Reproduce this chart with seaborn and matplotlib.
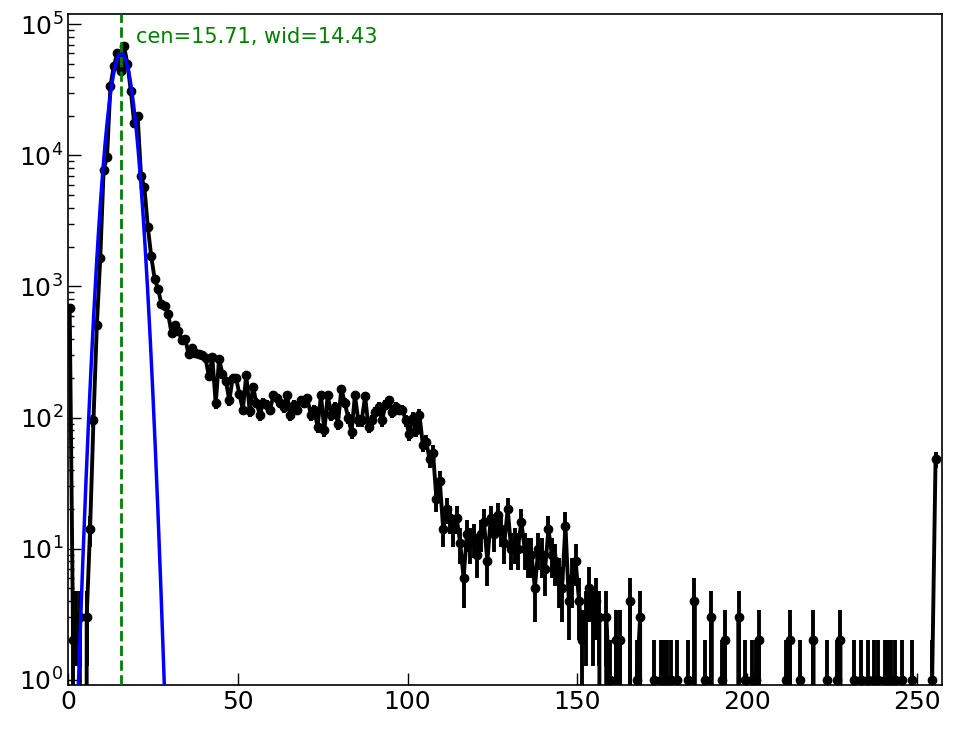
import numpy as np
import matplotlib
matplotlib.use("Agg")
import matplotlib.pyplot as plt
import seaborn as sns

# histogram counts per bin (256 bins, 0..255)
counts_peak = [680, 2, 3, 3, 0, 3, 14, 95, 510, 1650,
               7800, 9800, 34000, 48000, 60000, 44000, 68000, 50000, 31000, 17700,
               20100, 7000, 5700, 2860, 1710, 1150, 960, 740, 710, 615]
counts_shoulder = [440, 510, 460, 390, 400, 305, 340, 310, 305, 300,
                   283, 206, 289, 128, 280, 215, 190, 135, 200, 200,
                   150, 115, 212, 112, 170, 130, 105, 130, 125, 115,
                   148, 140, 130, 120, 148, 105, 125, 115, 135, 130,
                   140, 105, 115, 85, 148, 80, 148, 105, 120, 90,
                   165, 130, 100, 78, 148, 95, 95, 145, 85, 95,
                   110, 120, 95, 125, 135, 110, 120, 115, 115, 95]
counts_drop = [75, 100, 80, 105, 62, 65, 48, 54, 24, 33,
               14, 20, 17, 14, 17, 11, 6, 13, 11, 12,
               9, 13, 16, 8, 17, 13, 18, 14, 11, 20,
               10, 11, 10, 16, 10, 9, 9, 5, 10, 9,
               7, 14, 9, 8, 6, 5, 15, 4, 6, 8]
counts_tail = [4, 2, 3, 5, 3, 4, 3, 0, 3, 1,
               0, 2, 2, 0, 0, 4, 0, 1, 3, 0,
               0, 0, 1, 0, 1, 1, 1, 1, 0, 1,
               0, 0, 1, 0, 4, 0, 0, 1, 0, 3,
               0, 0, 1, 2, 0, 0, 0, 3, 0, 1,
               0, 1, 1, 2, 0, 0, 0, 0, 0, 0,
               0, 1, 2, 0, 0, 1, 0, 0, 0, 2,
               0, 0, 0, 1, 0, 0, 1, 2, 0, 0,
               0, 1, 0, 1, 0, 1, 0, 1, 1, 0,
               1, 1, 1, 1, 0, 1, 0, 0, 1, 0,
               0, 0, 0, 0, 1, 48]

counts = np.array(counts_peak + counts_shoulder + counts_drop + counts_tail, dtype=float)
centers = np.arange(len(counts)) + 0.5

# gaussian fit result
fit_amp = 6.0e4
fit_cen = 15.71
fit_wid = 14.43

sns.set_style("white")

fig = plt.figure(figsize=(9.64, 7.29), dpi=100)
ax = fig.add_axes([68 / 964, 1 - 685 / 729, (942 - 68) / 964, (685 - 14) / 729])

ax.set_yscale("log", nonpositive="clip")
ax.errorbar(centers, counts, yerr=np.sqrt(counts), fmt="o-", color="black",
            lw=2.8, elinewidth=2.8, ms=6, zorder=2)

xfit = np.linspace(0, 257, 2000)
yfit = fit_amp * np.exp(-(xfit - fit_cen) ** 2 / fit_wid)
sns.lineplot(x=xfit, y=yfit, color="blue", lw=2.5, ax=ax, zorder=3)

ax.axvline(fit_cen, color="green", ls="--", lw=2, zorder=4)
ax.text(20, 8.0e4, f"cen={fit_cen:.2f}, wid={fit_wid:.2f}", color="green",
        fontsize=15, va="center", ha="left")

ax.set_xlim(0, 257.4)
ax.set_ylim(0.91, 1.2e5)
ax.tick_params(axis="both", which="major", direction="in", length=9, width=1,
               labelsize=18, left=True, bottom=True, colors="black")
ax.tick_params(axis="y", which="minor", direction="in", length=4, width=1,
               left=True, colors="black")
for s in ax.spines.values():
    s.set_linewidth(1.2)
    s.set_color("black")

fig.savefig("out.png", dpi=100)
